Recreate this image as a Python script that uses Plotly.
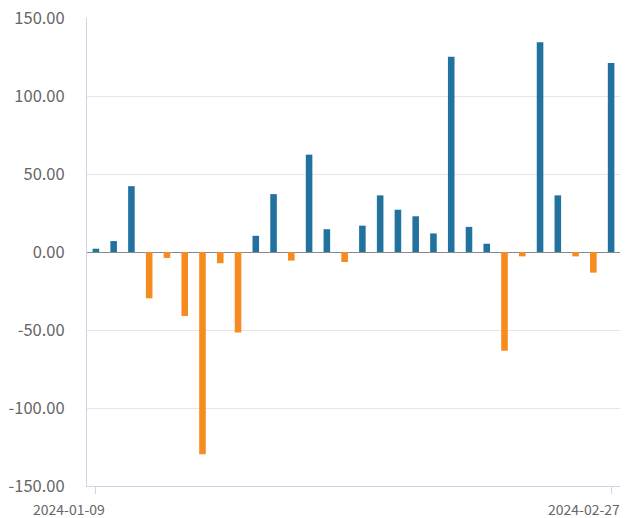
import plotly.graph_objects as go

dates = [
    "2024-01-09", "2024-01-10", "2024-01-11", "2024-01-12",
    "2024-01-15", "2024-01-16", "2024-01-17", "2024-01-18", "2024-01-19",
    "2024-01-22", "2024-01-23", "2024-01-24", "2024-01-25", "2024-01-26",
    "2024-01-29", "2024-01-30", "2024-01-31", "2024-02-01", "2024-02-02",
    "2024-02-05", "2024-02-06", "2024-02-07", "2024-02-08",
    "2024-02-19", "2024-02-20", "2024-02-21", "2024-02-22", "2024-02-23",
    "2024-02-26", "2024-02-27",
]
values = [
    2.1, 7.0, 42.2, -29.7,
    -3.8, -41.0, -129.7, -7.2, -51.6,
    10.4, 37.1, -5.5, 62.4, 14.6,
    -6.4, 16.9, 36.3, 27.1, 22.9,
    11.9, 125.1, 16.1, 5.3,
    -63.3, -2.8, 134.5, 36.3, -2.8,
    -13.2, 121.1,
]
x_label_dates = [dates[0], dates[-1]]
y_ticks = [-150, -100, -50, 0, 50, 100, 150]
y_tick_text = ["-150.00", "-100.00", "-50.00", "0.00", "50.00", "100.00", "150.00"]

BLUE = "#2272a0"
ORANGE = "#f68b1f"
colors = [BLUE if v >= 0 else ORANGE for v in values]

fig = go.Figure(
    go.Bar(
        x=dates,
        y=values,
        marker=dict(color=colors, line=dict(width=0)),
        width=0.37,
    )
)

fig.update_layout(
    width=631,
    height=518,
    margin=dict(l=87, r=11, t=18, b=32),
    paper_bgcolor="white",
    plot_bgcolor="white",
    showlegend=False,
    font=dict(family="Noto Sans CJK SC, sans-serif", color="#666666"),
)

fig.update_xaxes(
    type="category",
    range=[-0.5, len(dates) - 0.5],
    tickvals=x_label_dates,
    showticklabels=False,
    ticks="outside",
    ticklen=7,
    tickcolor="#ccd6eb",
    showline=True,
    linecolor="#ccd6eb",
    linewidth=1,
    showgrid=False,
    zeroline=False,
    automargin=False,
)

fig.update_yaxes(
    range=[-150, 150],
    tickvals=y_ticks,
    ticktext=y_tick_text,
    tickfont=dict(size=16.5, color="#666666", family="Noto Sans CJK SC, sans-serif"),
    ticklabelstandoff=18,
    showline=True,
    linecolor="#ccd6eb",
    linewidth=1,
    showgrid=True,
    gridcolor="#e6e6e6",
    gridwidth=1,
    zeroline=True,
    zerolinecolor="#888888",
    zerolinewidth=1,
    automargin=False,
)

for d in x_label_dates:
    fig.add_annotation(
        x=d, y=0, xref="x", yref="paper",
        text=d, showarrow=False,
        xanchor="right", yanchor="top",
        xshift=11, yshift=-11,
        font=dict(size=14, color="#666666", family="Noto Sans CJK SC, sans-serif"),
    )

fig.write_html(
    "out.html",
    config={"displayModeBar": False},
    post_script="document.body.style.margin='0';",
)
